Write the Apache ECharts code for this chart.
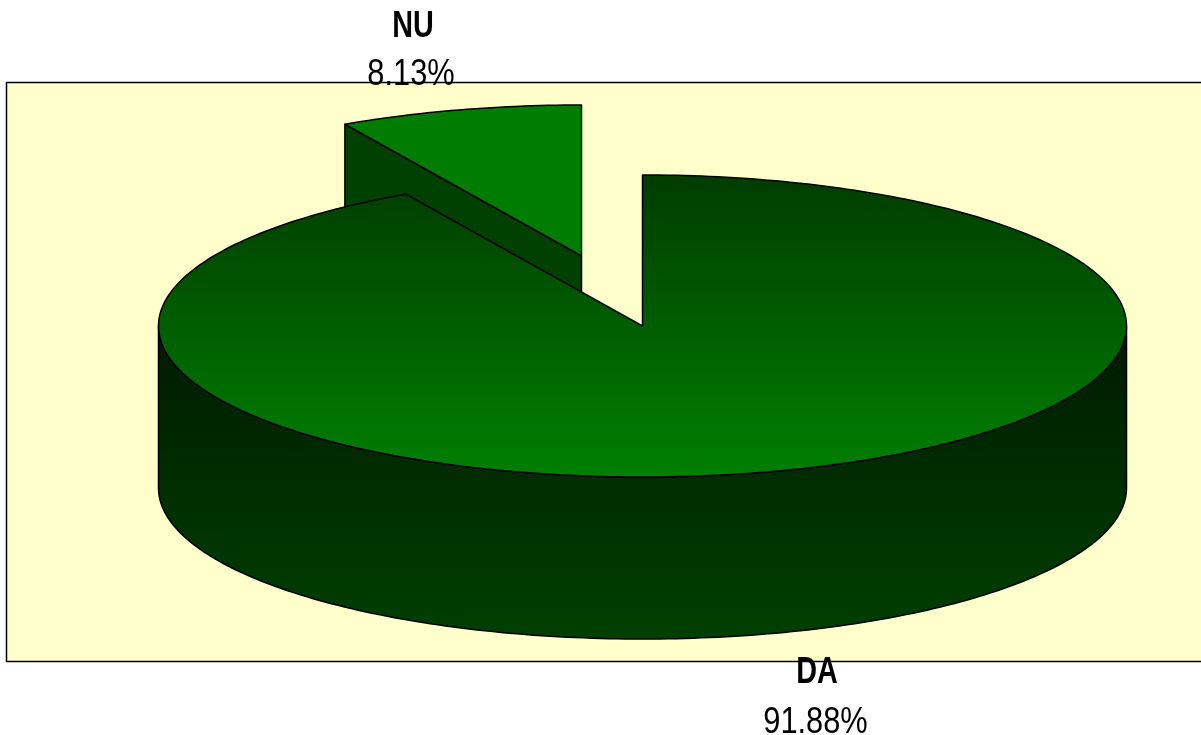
<!DOCTYPE html>
<html>
<head>
<meta charset="utf-8">
<script src="https://cdn.jsdelivr.net/npm/echarts@6/dist/echarts.min.js"></script>
<style>html,body{margin:0;padding:0;background:#fff}#c{width:1201px;height:735px}</style>
</head>
<body>
<div id="c"></div>
<script>
var categories = ['NU', 'DA'];
var values = [8.13, 91.88];

var cx = 642.5, cy = 326, rx = 484, ry = 151, depth = 162;
var explode = [[-61, -70], [0, 0]];
var labelAt = [[413, 27.5, 411, 75.5], [817, 673.5, 815.5, 723]];
var total = values.reduce(function (a, b) { return a + b; }, 0);

function vgrad(a, b) {
  return new echarts.graphic.LinearGradient(0, 0, 0, 1, [{ offset: 0, color: a }, { offset: 1, color: b }]);
}
function pt(c, deg, dz) {
  var t = deg * Math.PI / 180;
  return [c[0] + rx * Math.sin(t), c[1] - ry * Math.cos(t) + (dz || 0)];
}
function arc(c, from, to, dz) {
  var out = [], n = Math.max(2, Math.ceil(Math.abs(to - from)));
  for (var i = 0; i <= n; i++) out.push(pt(c, from + (to - from) * i / n, dz));
  return out;
}
var line = { stroke: '#000', lineWidth: 1.5, lineJoin: 'round' };
function st(fill) { return Object.assign({ fill: fill }, line); }
function label(text, x, y, bold) {
  return {
    type: 'text', z2: 10, x: x, y: y, scaleX: bold ? 0.8 : 0.855,
    style: { text: text, x: 0, y: 0, align: 'center', verticalAlign: 'middle', fill: '#000',
      font: (bold ? 'bold ' : '') + '36px "Liberation Sans"' }
  };
}

function renderItem(params, api) {
  var i = params.dataIndex;
  var sweep = api.value(0) / total * 360;
  var start = i === 0 ? -sweep : 0;
  var end = start + sweep;
  var c = [cx + explode[i][0], cy + explode[i][1]];
  var kids = [];
  if (i === 0) {
    var a = pt(c, start), a2 = pt(c, start, depth);
    kids.push({ type: 'polygon', shape: { points: [c, a, a2, [c[0], c[1] + depth]] }, style: st('#004000') });
    kids.push({ type: 'polygon', shape: { points: [c].concat(arc(c, start, end)) }, style: st('#007c00') });
  } else {
    var top = arc(c, 90, 270), bottom = arc(c, 270, 90, depth);
    kids.push({ type: 'polygon', shape: { points: top.concat(bottom) }, style: st(vgrad('#001a00', '#004000')) });
    kids.push({ type: 'polygon', shape: { points: [c].concat(arc(c, start, end)) }, style: st(vgrad('#003c00', '#008000')) });
  }
  var L = labelAt[i];
  kids.push(label(categories[i], L[0], L[1], true));
  kids.push(label(api.value(0).toFixed(2) + '%', L[2], L[3], false));
  return { type: 'group', children: kids };
}

var chart = echarts.init(document.getElementById('c'), null, { renderer: 'canvas' });
chart.setOption({
  animation: false,
  backgroundColor: '#fff',
  graphic: [{ type: 'rect', z: 0, shape: { x: 6.5, y: 82.5, width: 1300, height: 579 }, style: { fill: '#ffffcc', stroke: '#000', lineWidth: 1.5 } }],
  series: [{
    type: 'custom',
    coordinateSystem: 'none',
    z: 5,
    clip: false,
    renderItem: renderItem,
    data: values.map(function (v, i) { return { name: categories[i], value: [v] }; })
  }]
});
</script>
</body>
</html>
